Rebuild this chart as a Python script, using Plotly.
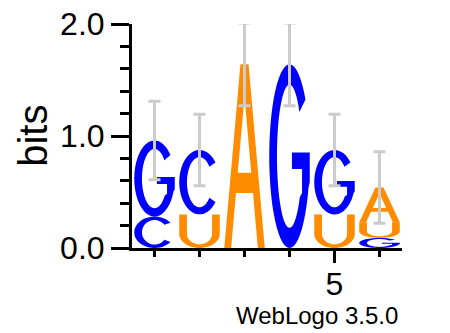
import numpy as np
import plotly.graph_objects as go

# ---------------- data ----------------
positions = [1, 2, 3, 4, 5, 6]
letters = ["A", "C", "G", "U"]
height_A = [0.00, 0.00, 1.64, 0.00, 0.00, 0.31]
height_C = [0.28, 0.575, 0.00, 0.00, 0.00, 0.00]
height_G = [0.68, 0.00, 0.00, 1.64, 0.575, 0.09]
height_U = [0.00, 0.30, 0.00, 0.00, 0.30, 0.14]
error_half = [0.35, 0.32, 0.37, 0.37, 0.32, 0.32]
y_tick_vals = [0, 1, 2]
y_tick_text = ["0.0", "1.0", "2.0"]
x_tick_vals = [5]
x_tick_text = ["5"]

heights = {"A": height_A, "C": height_C, "G": height_G, "U": height_U}
colors = {"A": "#FF8C00", "U": "#FF8C00", "C": "#0000FF", "G": "#0000FF"}

# ---------------- glyph outlines in a unit box ----------------
TX, TY = 0.19, 0.11


def arc(cx, cy, rx, ry, a0, a1, n=48):
    t = np.radians(np.linspace(a0, a1, n))
    return list(zip(cx + rx * np.cos(t), cy + ry * np.sin(t)))


def glyph(letter):
    if letter == "A":
        outer = [(0, 0), (0.4, 1), (0.6, 1), (1, 0), (1 - 0.17, 0),
                 (0.83 - 0.4 * 0.30, 0.30), (0.17 + 0.4 * 0.30, 0.30), (0.17, 0)]
        hole = [(0.17 + 0.4 * 0.41, 0.41), (0.83 - 0.4 * 0.41, 0.41), (0.5, 0.825)]
        return [outer, hole]
    if letter == "C":
        pts = arc(0.5, 0.5, 0.5, 0.5, 38, 322) + arc(0.5, 0.5, 0.5 - TX, 0.5 - TY, 322, 38)
        return [pts]
    if letter == "G":
        pts = arc(0.5, 0.5, 0.5, 0.5, 38, 340)
        pts += [(1.0, 0.36), (1.0, 0.52), (0.56, 0.52), (0.56, 0.43),
                (1 - TX, 0.43), (1 - TX, 0.30)]
        pts += arc(0.5, 0.5, 0.5 - TX, 0.5 - TY, 325, 38)
        return [pts]
    if letter == "U":
        pts = [(0, 1), (0, 0.42)] + arc(0.5, 0.42, 0.5, 0.42, 180, 360)
        pts += [(1, 1), (1 - TX, 1), (1 - TX, 0.42)]
        pts += arc(0.5, 0.42, 0.5 - TX, 0.42 - TY, 360, 180)
        pts += [(TX, 1)]
        return [pts]
    return []


def glyph_path(letter, x0, x1, y0, y1):
    parts = []
    for poly in glyph(letter):
        s = "M" + "L".join(f"{x0 + (x1 - x0) * u:.5f},{y0 + (y1 - y0) * v:.5f}" for u, v in poly) + "Z"
        parts.append(s)
    return " ".join(parts)


half_w = 0.45
shapes = []
totals = []
for i, p in enumerate(positions):
    col = sorted([(heights[L][i], L) for L in letters if heights[L][i] > 0])
    base = 0.0
    for h, L in col:
        shapes.append(dict(type="path", xref="x", yref="y",
                           path=glyph_path(L, p - half_w, p + half_w, base, base + h),
                           fillcolor=colors[L], line=dict(width=0), layer="below"))
        base += h
    totals.append(base)

fig = go.Figure()
fig.add_trace(go.Scatter(
    x=positions, y=totals, mode="markers",
    marker=dict(size=1, color="rgba(0,0,0,0)"),
    error_y=dict(type="data", array=error_half, color="#CCCCCC", thickness=3, width=6),
    hoverinfo="skip", showlegend=False))

font_family = "Liberation Sans, Arial, sans-serif"
fig.update_layout(
    width=442, height=325,
    margin=dict(l=124, r=48, t=16, b=85, autoexpand=False),
    paper_bgcolor="white", plot_bgcolor="white",
    showlegend=False,
    shapes=shapes,
    font=dict(family=font_family, color="black"),
    xaxis=dict(range=[0.5, 6.5], tickmode="array", tickvals=x_tick_vals, ticktext=x_tick_text,
               ticks="outside", ticklen=12, tickwidth=3, tickcolor="black", automargin=False,
               ticklabelstandoff=-6, ticklabeloverflow="allow",
               showline=True, linewidth=3, linecolor="black", showgrid=False, zeroline=False,
               tickfont=dict(size=32, family=font_family, color="black"),
               minor=dict(tickmode="linear", tick0=1, dtick=1, ticks="outside", ticklen=6,
                          tickwidth=3, tickcolor="black", showgrid=False)),
    yaxis=dict(range=[0, 2], tickmode="array", tickvals=y_tick_vals, ticktext=y_tick_text,
               ticks="outside", ticklen=18, tickwidth=3, tickcolor="black", automargin=False,
               ticklabeloverflow="allow",
               showline=True, linewidth=3, linecolor="black", showgrid=False, zeroline=False,
               tickfont=dict(size=32, family=font_family, color="black"),
               minor=dict(tickmode="linear", tick0=0, dtick=0.2, ticks="outside", ticklen=9,
                          tickwidth=3, tickcolor="black", showgrid=False)),
    annotations=[
        dict(text="bits", textangle=-90, xref="paper", yref="paper",
             x=(33 - 132) / 270, y=(248.3 - 136) / 224.3, xanchor="center", yanchor="middle",
             showarrow=False, font=dict(size=40, family=font_family, color="black")),
        dict(text="WebLogo 3.5.0", xref="paper", yref="paper",
             x=(400 - 132) / 270, y=(248.3 - 316) / 224.3, xanchor="right", yanchor="middle",
             showarrow=False, font=dict(size=24, family=font_family, color="black")),
    ],
)

fig.write_html("out.html")
